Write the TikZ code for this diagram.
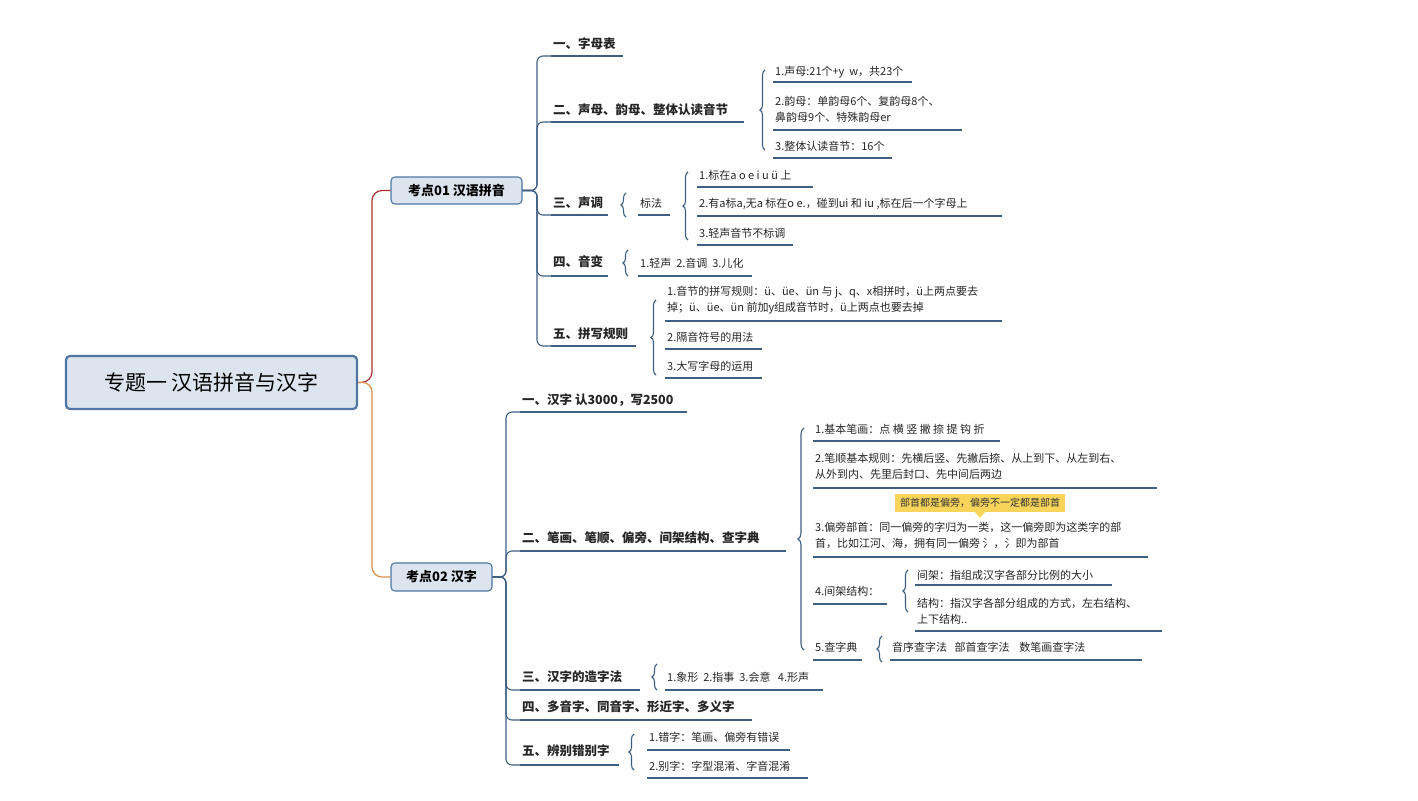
\documentclass[tikz,border=0pt]{standalone}
\usepackage{fontspec}
\setmainfont{Noto Sans CJK SC}
\usetikzlibrary{decorations.pathreplacing}
\definecolor{ln}{HTML}{3F5F82}
\definecolor{bx}{HTML}{DCE5EF}
\definecolor{bd}{HTML}{4F76A3}
\definecolor{rd}{HTML}{A83232}
\definecolor{og}{HTML}{D9904A}
\definecolor{yl}{HTML}{F8D55A}
\tikzset{
 lf/.style={anchor=west,inner sep=0pt,font=\fontsize{11}{16}\selectfont,align=left,text=black!85},
 l2/.style={anchor=west,inner sep=0pt,font=\fontsize{12.5}{16}\selectfont\bfseries,text=black!85},
 ul/.style={draw=ln,line width=1.3pt},
 br/.style={draw=ln,line width=1.1pt,decorate,decoration={brace,amplitude=5pt}},
 tk/.style={draw=ln,line width=1.1pt,rounded corners=6pt},
 kd/.style={draw=bd,fill=bx,rounded corners=4pt,line width=1.1pt,font=\fontsize{13}{16}\selectfont\bfseries,inner sep=0pt}
}
% \leafx{name}{x1}{x2}{ytext}{yul}{style}{text}
\newcommand{\leafx}[7]{\node[#6] (#1) at (#2+2,#4) {#7}; \draw[ul] (#2,#5) -- (#3,#5);}
\begin{document}
\begin{tikzpicture}[x=1pt,y=-1pt]
\useasboundingbox[fill=white] (0,0) rectangle (1418,800);
% root and level 1
\node[draw=bd,fill=bx,rounded corners=4pt,line width=2.2pt,minimum width=291pt,minimum height=53pt,font=\fontsize{21}{24}\selectfont] (root) at (211.5,382.5) {专题一 汉语拼音与汉字};
\node[kd,minimum width=131pt,minimum height=27pt] (k1) at (456.5,190.5) {考点01\ 汉语拼音};
\node[kd,minimum width=101pt,minimum height=28pt] (k2) at (441.5,577) {考点02 汉字};
\draw[rd,line width=1.2pt,rounded corners=10pt] (root.east) -- (372,382) -- (372,190.5) -- (k1.west);
\draw[og,line width=1.2pt,rounded corners=10pt] (root.east) -- (372,382) -- (372,577) -- (k2.west);
% kaodian 01 branches
\leafx{a1}{551}{623}{44}{56}{l2}{一、字母表}
\leafx{a2}{551}{744}{110}{122}{l2}{二、声母、韵母、整体认读音节}
\leafx{a3}{551}{608}{203}{215}{l2}{三、声调}
\leafx{a4}{551}{608}{262}{276}{l2}{四、音变}
\leafx{a5}{551}{636}{334}{346}{l2}{五、拼写规则}
\foreach \y in {56,122,215,276,346} \draw[tk] (k1.east) -- (537,190.5) |- (551,\y);
% 二
\draw[br] (765,150) -- (765,70);
\leafx{b1}{773}{912}{72}{82}{lf}{1.声母:21个+y\ \ w，共23个}
\leafx{b2}{773}{962}{109}{130}{lf}{2.韵母：单韵母6个、复韵母8个、\\鼻韵母9个、特殊韵母er}
\leafx{b3}{773}{892}{146}{158}{lf}{3.整体认读音节：16个}
% 三
\draw[br] (626,217) -- (626,193);
\leafx{c0}{638}{670}{203}{215}{lf}{标法}
\draw[br] (688,240) -- (688,172);
\leafx{c1}{697}{813}{175}{187}{lf}{1.标在a\ o\ e\ i\ u\ ü\ 上}
\leafx{c2}{697}{1002}{204}{216}{lf}{2.有a标a,无a 标在o e.，碰到ui 和 iu ,标在后一个字母上}
\leafx{c3}{697}{793}{233}{245}{lf}{3.轻声音节不标调}
% 四
\draw[br] (628,276) -- (628,250);
\leafx{d1}{638}{752}{263}{276}{lf}{1.轻声\ \ 2.音调\ \ 3.儿化}
% 五
\draw[br] (656,375) -- (656,300);
\leafx{e1}{665}{1002}{300}{321}{lf}{1.音节的拼写规则：ü、üe、ün 与 j、q、x相拼时，ü上两点要去\\掉；ü、üe、ün 前加y组成音节时，ü上两点也要去掉}
\leafx{e2}{665}{762}{337}{349}{lf}{2.隔音符号的用法}
\leafx{e3}{665}{762}{366}{378}{lf}{3.大写字母的运用}
% kaodian 02 branches
\leafx{f1}{520}{687}{400}{412}{l2}{一、汉字 认3000，写2500}
\leafx{f2}{520}{786}{538}{551}{l2}{二、笔画、笔顺、偏旁、间架结构、查字典}
\leafx{f3}{520}{640}{677}{690}{l2}{三、汉字的造字法}
\leafx{f4}{520}{752}{707}{720}{l2}{四、多音字、同音字、形近字、多义字}
\leafx{f5}{520}{619}{751}{765}{l2}{五、辨别错别字}
\foreach \y in {412,551,690,720,765} \draw[tk] (k2.east) -- (506,577) |- (520,\y);
% 二 children
\draw[br,decoration={brace,amplitude=6pt}] (804,650) -- (804,428);
\leafx{g1}{813}{1000}{429}{441}{lf}{1.基本笔画：点 横 竖 撇 捺 提 钩 折}
\leafx{g2}{813}{1157}{466}{488}{lf}{2.笔顺基本规则：先横后竖、先撇后捺、从上到下、从左到右、\\从外到内、先里后封口、先中间后两边}
\node[fill=yl,inner xsep=5pt,inner ysep=4pt,font=\fontsize{10}{12}\selectfont,text=black!80] (note) at (980,503) {部首都是偏旁，偏旁不一定都是部首};
\fill[yl] (975,512) -- (985,512) -- (980,518) -- cycle;
\leafx{g3}{813}{1148}{535}{557}{lf}{3.偏旁部首：同一偏旁的字归为一类，这一偏旁即为这类字的部\\首，比如江河、海，拥有同一偏旁 氵，氵即为部首}
\leafx{g4}{813}{887}{591}{604}{lf}{4.间架结构：}
\draw[br] (908,612) -- (908,570);
\leafx{h1}{915}{1112}{575}{585}{lf}{间架：指组成汉字各部分比例的大小}
\leafx{h2}{915}{1162}{611}{631}{lf}{结构：指汉字各部分组成的方式，左右结构、\\上下结构..}
\leafx{g5}{813}{862}{647}{660}{lf}{5.查字典}
\draw[br] (882,662) -- (882,636);
\leafx{h3}{890}{1142}{647}{660}{lf}{音序查字法\ \ \ 部首查字法\ \ \ \ 数笔画查字法}
% 三 children
\draw[br] (657,690) -- (657,664);
\leafx{i1}{665}{823}{677}{690}{lf}{1.象形\ \ 2.指事\ \ 3.会意\ \ \ 4.形声}
% 五 children
\draw[br] (634,770) -- (634,734);
\leafx{j1}{647}{790}{737}{750}{lf}{1.错字：笔画、偏旁有错误}
\leafx{j2}{647}{808}{766}{778}{lf}{2.别字：字型混淆、字音混淆}
\end{tikzpicture}
\end{document}
